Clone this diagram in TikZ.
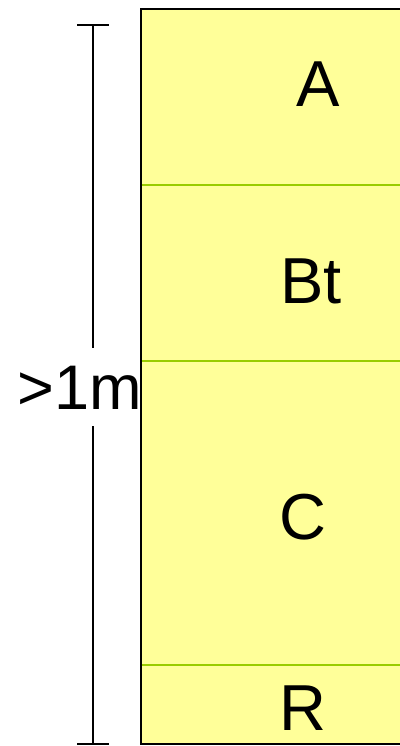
\documentclass[tikz,border=0pt]{standalone}
\usepackage{fontspec}
\setmainfont{Liberation Sans}
\usepackage{xcolor}
\definecolor{soilyellow}{HTML}{FFFF99}
\definecolor{horizongreen}{HTML}{99CC00}

\begin{document}
\begin{tikzpicture}[x=1pt, y=-1pt,
    horizonlabel/.style={font=\fontsize{65}{65}\selectfont, inner sep=0pt},
    depthlabel/.style={font=\fontsize{63}{63}\selectfont, inner xsep=0pt, inner ysep=17pt},
    boundary/.style={horizongreen, line width=2pt},
    scalebar/.style={black, line width=2pt}]
        \useasboundingbox (0,0) rectangle (399,746);
        % soil column
        \fill[soilyellow] (141,9) rectangle (410,744);
        \draw[boundary] (141,185) -- (410,185);
        \draw[boundary] (141,361) -- (410,361);
        \draw[boundary] (141,665) -- (410,665);
        \draw[line width=2pt] (141,9) rectangle (410,744);
        % horizon names
        \node[horizonlabel] (hA) at (318,84) {A};
        \node[horizonlabel] (hBt) at (311,281) {Bt};
        \node[horizonlabel] (hC) at (303,517) {C};
        \node[horizonlabel] (hR) at (303,708) {R};
        % depth bar
        \coordinate (barTop) at (93,25);
        \coordinate (barBot) at (93,744);
        \node[depthlabel, anchor=base] (depth) at (79.5,409) {>1m};
        \draw[scalebar] (barTop) -- (barTop |- depth.north);
        \draw[scalebar] (barBot |- depth.south) -- (barBot);
        \draw[scalebar] ([xshift=-16pt]barTop) -- ([xshift=16pt]barTop);
        \draw[scalebar] ([xshift=-16pt]barBot) -- ([xshift=16pt]barBot);
\end{tikzpicture}
\end{document}
